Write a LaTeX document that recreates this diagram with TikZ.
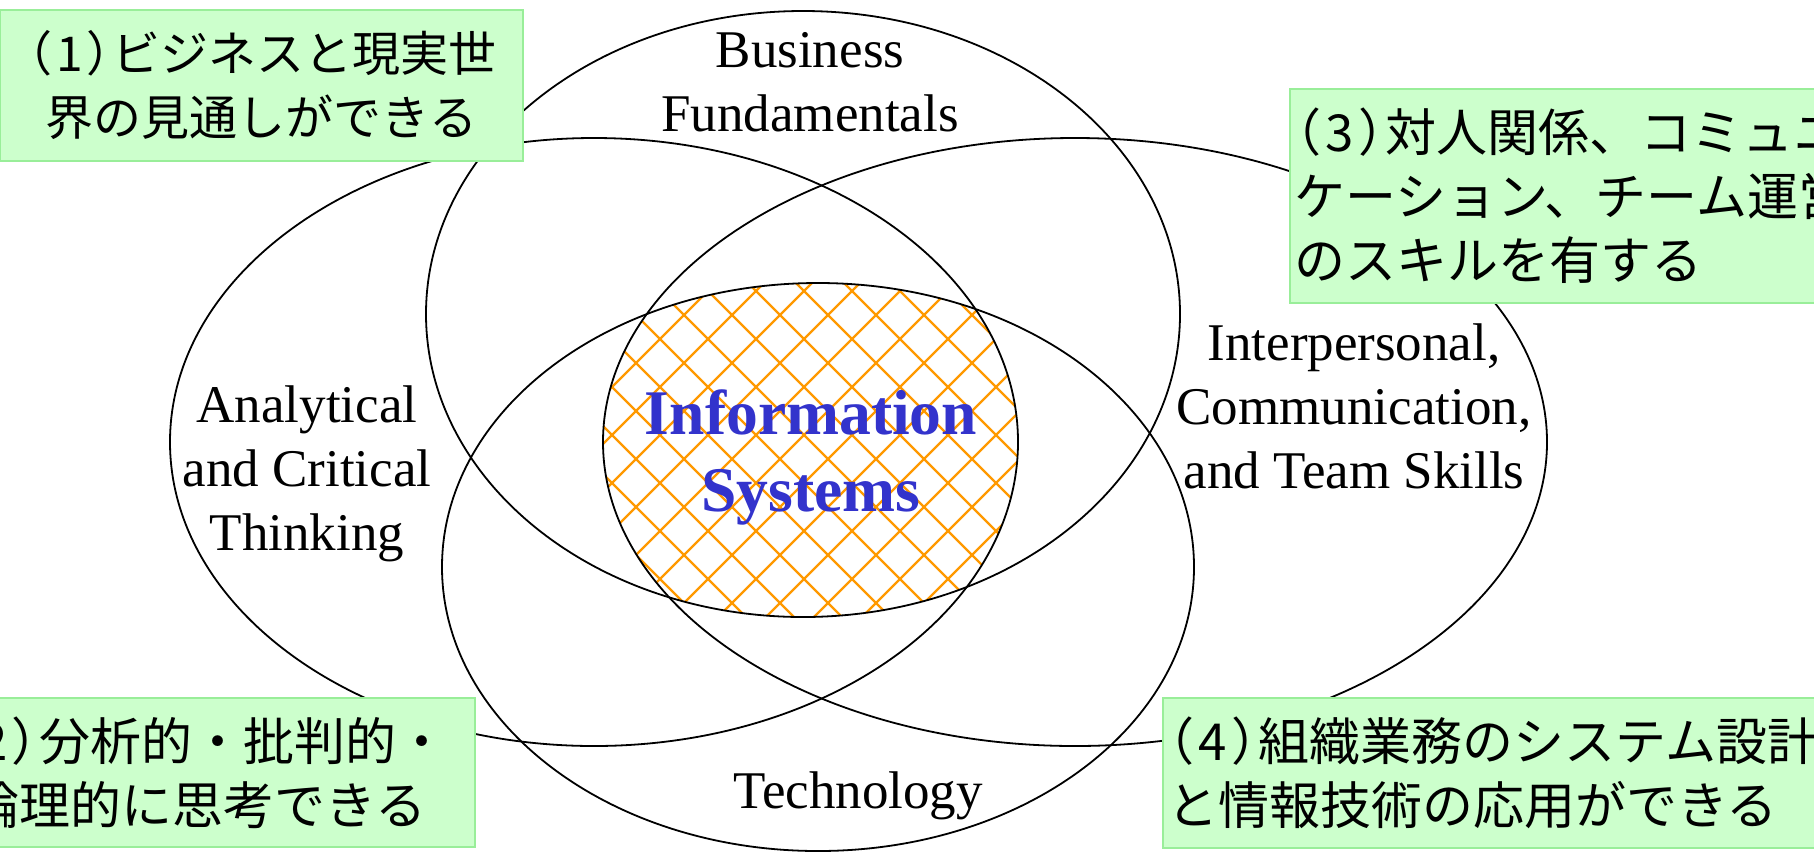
\documentclass[tikz,border=0pt]{standalone}
\usepackage{fontspec}
\setmainfont{Liberation Serif}
\newfontfamily\jpfont{Noto Sans CJK JP}
\newfontfamily\jpnarrow[RawFeature=+palt]{Noto Sans CJK JP}
\def\kakko#1{{\jpnarrow （}\kern0.12em#1\kern0.12em{\jpnarrow ）}}
\definecolor{boxgreen}{HTML}{CCFFCC}
\definecolor{boxedge}{HTML}{99EE99}
\definecolor{isblue}{HTML}{3333CC}
\definecolor{hatchorange}{HTML}{FF9900}
\tikzset{
	ring/.style={draw=black, line width=0.9pt},
	hatchline/.style={draw=hatchorange, line width=1.2pt},
	topic/.style={align=center, inner sep=0pt, font=\fontsize{26.5}{32}\selectfont},
	goal/.style={draw=boxedge, line width=1pt, fill=boxgreen, inner xsep=2pt, inner ysep=0pt, font=\jpfont\fontsize{25.5}{32}\selectfont},
}

\begin{document}
\begin{tikzpicture}[x=0.5pt, y=-0.5pt]
		%%%%% START %%%%%
		\clip (0, 0) rectangle (1814, 853);
		\fill[white] (0, 0) rectangle (1814, 853);
		
		% crosshatch where all four rings overlap
		\begin{scope}
			\clip (803, 314) ellipse [x radius=377, y radius=303];
			\clip (594, 442) ellipse [x radius=424, y radius=304];
			\clip (1075, 442) ellipse [x radius=472, y radius=304];
			\clip (818, 567) ellipse [x radius=376, y radius=284];
			\foreach \k in {-7,...,13} {
				\draw[hatchline] ({177+48*\k+250}, 250) -- ({177+48*\k+650}, 650);
				\draw[hatchline] ({1143+48*\k-250}, 250) -- ({1143+48*\k-650}, 650);
			}
		\end{scope}
		
		\draw[ring] (803, 314) ellipse [x radius=377, y radius=303];
		\draw[ring] (594, 442) ellipse [x radius=424, y radius=304];
		\draw[ring] (1075, 442) ellipse [x radius=472, y radius=304];
		\draw[ring] (818, 567) ellipse [x radius=376, y radius=284];
		
		\node[topic] (business) at (810, 82) {Business\\Fundamentals};
		\node[topic] (analytical) at (307, 474) {Analytical\\and Critical\\Thinking};
		\node[topic] (interpersonal) at (1354, 406) {Interpersonal,\\Communication,\\and Team Skills};
		\node[topic, anchor=base] (technology) at (858, 808) {Technology};
		\node[align=center, inner sep=0pt, text=isblue, font=\bfseries\fontsize{31.8}{38.5}\selectfont] (infosys) at (811, 457) {Information\\Systems};
		
		\node[goal, minimum width=261.5pt, minimum height=75.5pt, text width=257.5pt, align=center, font=\jpfont\fontsize{24}{32}\selectfont] (goal1) at (261.5, 85.5) {\kakko{1}ビジネスと現実世\\界の見通しができる};
		\node[goal, minimum width=277.5pt, minimum height=74.5pt, text width=273.5pt, align=center] (goal2) at (197.5, 772.5) {\kakko{2}分析的・批判的・\\論理的に思考できる};
		\node[goal, minimum width=305pt, minimum height=107pt, text width=301pt, align=left] (goal3) at (1595, 196) {\kakko{3}対人関係、コミュニ\\ケーション、チーム運営\\のスキルを有する};
		\node[goal, minimum width=368.5pt, minimum height=75pt, text width=364.5pt, align=left] (goal4) at (1531.5, 773) {\kakko{4}組織業務のシステム設計\\と情報技術の応用ができる};
		%%%%% END %%%%%
	\end{tikzpicture}
\end{document}
